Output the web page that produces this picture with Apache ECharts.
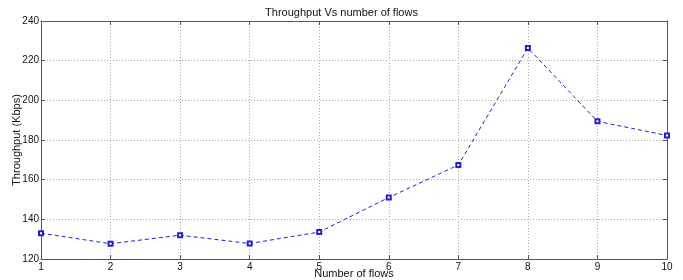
<!DOCTYPE html>
<html>
<head>
<meta charset="utf-8">
<script src="https://cdn.jsdelivr.net/npm/echarts@6/dist/echarts.min.js"></script>
<style>
    html, body { margin: 0; padding: 0; background: #fff; }
    #chart { width: 683px; height: 280px; }
</style>
</head>
<body>
<div id="chart"></div>
<script>
// 数据
const flows = [1, 2, 3, 4, 5, 6, 7, 8, 9, 10];
const throughput = [133, 127.7, 132, 127.8, 133.6, 151, 167.4, 226.4, 189.4, 182.3];
const yTicks = [120, 140, 160, 180, 200, 220, 240];

const font = 'Liberation Sans, Arial, sans-serif';
const axisLine = { show: true, lineStyle: { color: '#555', width: 1 } };
const gridLine = { show: true, lineStyle: { color: '#aaa', type: [1, 2], width: 1 } };
const tick = { show: true, inside: true, length: 4, lineStyle: { color: '#555' } };

const option = {
    animation: false,
    title: {
        text: 'Throughput Vs number of flows',
        left: 'center',
        top: 2,
        textStyle: { fontFamily: font, fontSize: 11, fontWeight: 'normal', color: '#111' }
    },
    grid: { left: 41, right: 16, top: 21, bottom: 21, containLabel: false, outerBoundsMode: 'none' },
    xAxis: [
        {
            type: 'value',
            min: flows[0],
            max: flows[flows.length - 1],
            interval: 1,
            name: 'Number of flows',
            nameLocation: 'middle',
            nameGap: 9,
            nameMoveOverlap: false,
            nameTextStyle: { fontFamily: font, fontSize: 11, color: '#111' },
            axisLine: axisLine,
            axisTick: tick,
            axisLabel: { fontFamily: font, fontSize: 10, color: '#111', margin: 3 },
            splitLine: gridLine
        },
        {
            type: 'value',
            position: 'top',
            min: flows[0],
            max: flows[flows.length - 1],
            interval: 1,
            axisLine: axisLine,
            axisTick: tick,
            axisLabel: { show: false },
            splitLine: { show: false }
        }
    ],
    yAxis: [
        {
            type: 'value',
            min: yTicks[0],
            max: yTicks[yTicks.length - 1],
            interval: 20,
            name: 'Throughput (Kbps)',
            nameLocation: 'middle',
            nameGap: 19,
            nameMoveOverlap: false,
            nameTextStyle: { fontFamily: font, fontSize: 11, color: '#111' },
            axisLine: axisLine,
            axisTick: tick,
            axisLabel: { fontFamily: font, fontSize: 10, color: '#111', margin: 2 },
            splitLine: gridLine
        },
        {
            type: 'value',
            position: 'right',
            min: yTicks[0],
            max: yTicks[yTicks.length - 1],
            interval: 20,
            axisLine: axisLine,
            axisTick: tick,
            axisLabel: { show: false },
            splitLine: { show: false }
        }
    ],
    series: [
        {
            type: 'line',
            data: flows.map((f, i) => [f, throughput[i]]),
            symbol: 'emptyRect',
            symbolSize: 4,
            lineStyle: { color: '#2222cc', type: [4, 3], width: 1 },
            itemStyle: { color: '#2222cc', borderColor: '#2222cc', borderWidth: 1 }
        }
    ]
};

const chart = echarts.init(document.getElementById('chart'));
chart.setOption(option);
</script>
</body>
</html>
